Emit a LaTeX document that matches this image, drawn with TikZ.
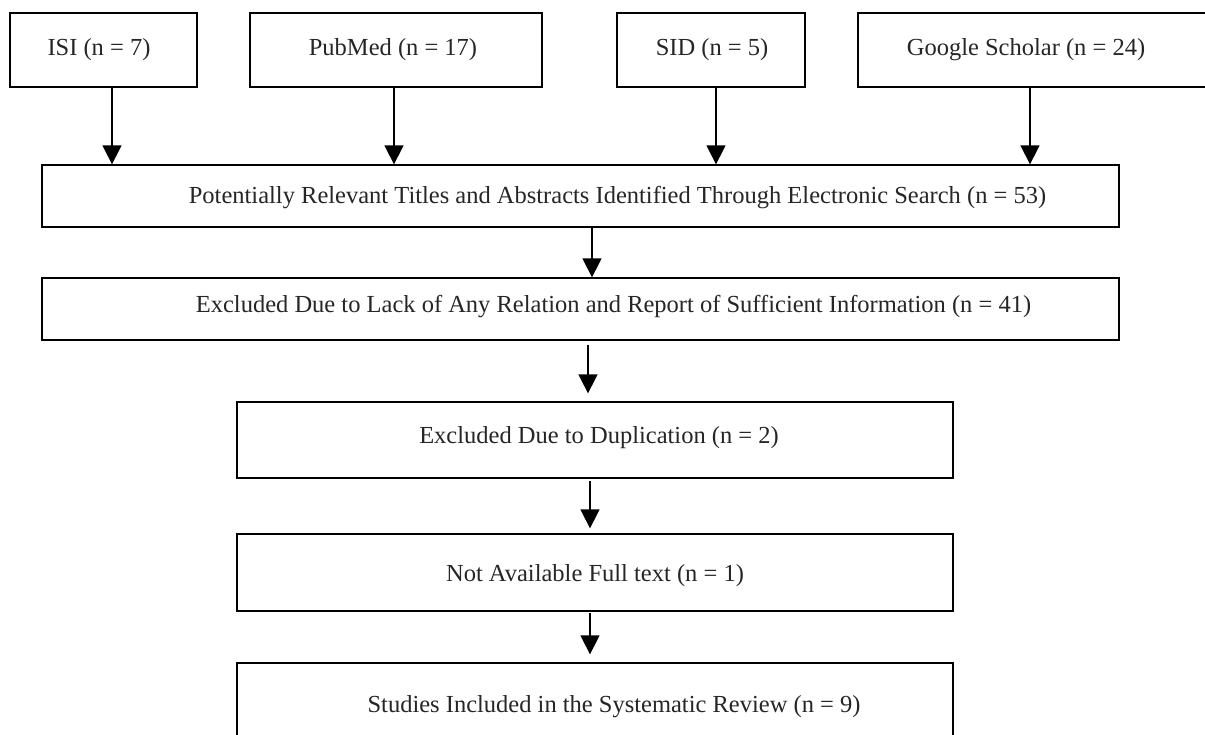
\documentclass[tikz,border=0pt]{standalone}
\usepackage{fontspec}
\setmainfont{Liberation Serif}
\usetikzlibrary{arrows.meta}
\begin{document}
\begin{tikzpicture}[x=1pt,y=-1pt,
  box/.style={draw=black, line width=1.3pt, inner sep=0pt, rectangle},
  txt/.style={inner sep=0pt, text=black!85, font=\fontsize{24.5}{28}\selectfont},
  arr/.style={draw=black, line width=1.5pt, -{Triangle[width=19pt,length=19pt]}}]
\clip (0,0) rectangle (1205,735);
\fill[white] (0,0) rectangle (1205,735);
% source boxes
\node[box, minimum width=187pt, minimum height=74pt] (isi) at (103.5,50) {};
\node[box, minimum width=292pt, minimum height=74pt] (pub) at (396,50) {};
\node[box, minimum width=188pt, minimum height=74pt] (sid) at (711,50) {};
\node[box, minimum width=356pt, minimum height=74pt] (goo) at (1036,50) {};
\node[txt] (isit) at (99,50) {ISI (n = 7)};
\node[txt] (pubt) at (393,50) {PubMed (n = 17)};
\node[txt] (sidt) at (712,50) {SID (n = 5)};
\node[txt] (goot) at (1026,50) {Google Scholar (n = 24)};
% main boxes
\node[box, minimum width=1077pt, minimum height=62pt] (pot) at (580.5,196) {};
\node[txt] (pott) at (617.5,198) {Potentially Relevant Titles and Abstracts Identified Through Electronic Search (n = 53)};
\node[box, minimum width=1077pt, minimum height=62pt] (exc) at (580.5,309) {};
\node[txt] (exct) at (613.5,307) {Excluded Due to Lack of Any Relation and Report of Sufficient Information (n = 41)};
\node[box, minimum width=716pt, minimum height=76pt] (dup) at (595,440) {};
\node[txt] (dupt) at (599,438) {Excluded Due to Duplication (n = 2)};
\node[box, minimum width=716pt, minimum height=77pt] (nav) at (595,572.5) {};
\node[txt] (navt) at (595,576) {Not Available Full text (n = 1)};
\node[box, minimum width=716pt, minimum height=84pt] (stu) at (595,705) {};
\node[txt] (stut) at (614,707) {Studies Included in the Systematic Review (n = 9)};
% connectors
\draw[arr] ([xshift=8.5pt]isi.south) -- ([xshift=8.5pt]isi.south |- pot.north);
\draw[arr] ([xshift=-2pt]pub.south) -- ([xshift=-2pt]pub.south |- pot.north);
\draw[arr] ([xshift=5pt]sid.south) -- ([xshift=5pt]sid.south |- pot.north);
\draw[arr] ([xshift=-6pt]goo.south) -- ([xshift=-6pt]goo.south |- pot.north);
\draw[arr] ([xshift=11.5pt]pot.south) -- ([xshift=11.5pt]exc.north);
\draw[arr, shorten <=4pt, shorten >=8pt] ([xshift=-7pt]dup.north |- exc.south) -- ([xshift=-7pt]dup.north);
\draw[arr, shorten <=2pt, shorten >=5pt] ([xshift=-5pt]dup.south) -- ([xshift=-5pt]nav.north);
\draw[arr, shorten <=1pt, shorten >=8pt] ([xshift=-5pt]nav.south) -- ([xshift=-5pt]stu.north);
\end{tikzpicture}
\end{document}
